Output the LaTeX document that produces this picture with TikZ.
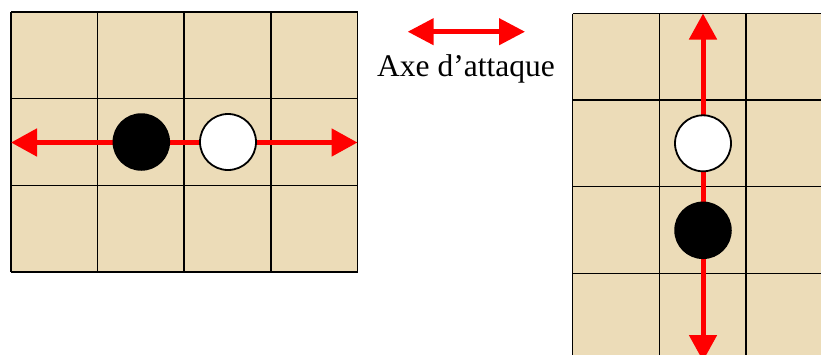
\documentclass[tikz,border=0pt]{standalone}
\usepackage{fontspec}
\setmainfont{Liberation Serif}
\usetikzlibrary{arrows.meta}
\definecolor{board}{RGB}{236,220,184}
\definecolor{attack}{RGB}{255,0,0}
\tikzset{
  gridline/.style={line width=1.5pt, black},
  cellfill/.style={fill=board},
  blackstone/.style={circle, fill=black, draw=black, line width=1.5pt, minimum size=56pt, inner sep=0pt},
  whitestone/.style={circle, fill=white, draw=black, line width=1.8pt, minimum size=56pt, inner sep=0pt},
  axis/.style={draw=attack, line width=5pt, {Triangle[length=26pt,width=27pt]}-{Triangle[length=26pt,width=27pt]}},
  legendaxis/.style={draw=attack, line width=4.5pt, {Triangle[length=26pt,width=26pt]}-{Triangle[length=26pt,width=26pt]}},
  label/.style={font=\fontsize{31.5}{36}\selectfont, inner sep=0pt, anchor=base}
}
\begin{document}
\begin{tikzpicture}[x=1pt,y=-1pt]
\useasboundingbox (0,0) rectangle (821,354);
\clip (0,0) rectangle (821,354);
% left board: 4 columns x 3 rows
\fill[cellfill] (11,12) rectangle (357.5,272);
\foreach \i in {0,...,4} \draw[gridline] ({11+86.6*\i},12) -- ({11+86.6*\i},272);
\foreach \j in {0,...,3} \draw[gridline] (11,{12+86.67*\j}) -- (357.5,{12+86.67*\j});
% right board: 3 columns x 4 rows (cut by the page edge)
\fill[cellfill] (572.7,13.5) rectangle (832.5,360);
\foreach \i in {0,...,3} \draw[gridline] ({572.7+86.6*\i},13.5) -- ({572.7+86.6*\i},360);
\foreach \j in {0,...,4} \draw[gridline] (572.7,{13.5+86.6*\j}) -- (832.5,{13.5+86.6*\j});
% left axis
\coordinate (LA) at (11,142.5);
\coordinate (LB) at (357.5,142.5);
\draw[axis] (LA) -- (LB);
\node[blackstone] (lb) at (141.3,142) {};
\node[whitestone] (lw) at (228,142) {};
% right axis
\coordinate (RA) at (703,13.5);
\coordinate (RB) at (703,361);
\draw[axis] (RA) -- (RB);
\node[whitestone] (rw) at (703,143.3) {};
\node[blackstone] (rb) at (703,230.3) {};
% legend
\coordinate (GA) at (407.7,31.7);
\coordinate (GB) at (525,31.7);
\draw[legendaxis] (GA) -- (GB);
\node[label] (txt) at (466,76.7) {Axe d’attaque};
\end{tikzpicture}
\end{document}
